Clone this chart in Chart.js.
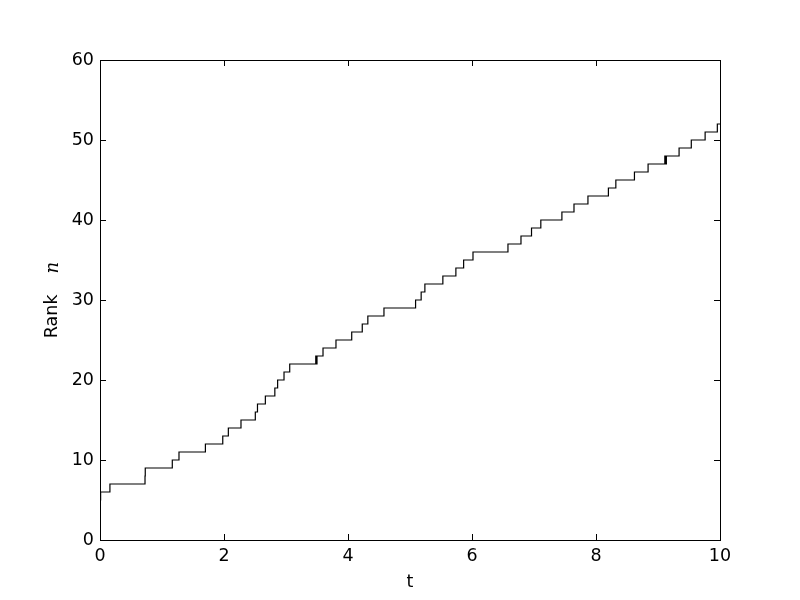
<!DOCTYPE html>
<html>
<head>
<meta charset="UTF-8">
<title>Rank n vs t</title>
<script src="https://cdn.jsdelivr.net/npm/chart.js"></script>
<style>
  html, body { margin: 0; padding: 0; background: #fff; }
  #wrap { width: 800px; height: 600px; }
</style>
</head>
<body>
<div id="wrap"><canvas id="rankChart" width="800" height="600"></canvas></div>
<script>
// times at which the rank changes, and the rank from that time on
var times = [0, 0.01, 0.16, 0.726, 0.73, 1.166, 1.274, 1.70, 1.98, 2.07, 2.274, 2.505, 2.54,
  2.667, 2.82, 2.865, 2.968, 3.06, 3.48, 3.49, 3.50, 3.597, 3.806, 4.06, 4.23, 4.32, 4.58,
  5.09, 5.18, 5.24, 5.53, 5.74, 5.865, 6.016, 6.58, 6.79, 6.96, 7.11, 7.45, 7.645, 7.87,
  8.20, 8.32, 8.62, 8.84, 9.11, 9.12, 9.135, 9.34, 9.537, 9.76, 9.957, 10];
var ranks = [5, 6, 7, 8, 9, 10, 11, 12, 13, 14, 15, 16, 17,
  18, 19, 20, 21, 22, 23, 22, 23, 24, 25, 26, 27, 28, 29,
  30, 31, 32, 33, 34, 35, 36, 37, 38, 39, 40, 41, 42, 43,
  44, 45, 46, 47, 48, 47, 48, 49, 50, 51, 52, 52];
var xTicks = [0, 2, 4, 6, 8, 10];
var yTicks = [0, 10, 20, 30, 40, 50, 60];

var points = times.map(function(t, i) { return { x: t, y: ranks[i] }; });

var tickFont = { family: 'DejaVu Sans', size: 17.5 };

// frame, inward ticks on all four sides, and axis titles (matplotlib classic look)
var framePlugin = {
  id: 'frame',
  afterDraw: function(chart) {
    var ctx = chart.ctx, a = chart.chartArea;
    var xs = chart.scales.x, ys = chart.scales.y;
    ctx.save();
    ctx.strokeStyle = '#000';
    ctx.lineWidth = 1;
    ctx.strokeRect(Math.round(a.left) + 0.5, Math.round(a.top) + 0.5,
      Math.round(a.right - a.left), Math.round(a.bottom - a.top));
    ctx.beginPath();
    xTicks.forEach(function(v) {
      var px = Math.round(xs.getPixelForValue(v)) + 0.5;
      ctx.moveTo(px, a.bottom); ctx.lineTo(px, a.bottom - 6);
      ctx.moveTo(px, a.top); ctx.lineTo(px, a.top + 6);
    });
    yTicks.forEach(function(v) {
      var py = Math.round(ys.getPixelForValue(v)) + 0.5;
      ctx.moveTo(a.left, py); ctx.lineTo(a.left + 6, py);
      ctx.moveTo(a.right, py); ctx.lineTo(a.right - 6, py);
    });
    ctx.stroke();

    ctx.fillStyle = '#000';
    ctx.textAlign = 'center';
    ctx.textBaseline = 'alphabetic';
    ctx.font = '17.5px "DejaVu Sans"';
    ctx.fillText('t', (a.left + a.right) / 2, 587);

    // y title: "Rank" + math-italic n, rotated
    ctx.translate(57, (a.top + a.bottom) / 2);
    ctx.rotate(-Math.PI / 2);
    ctx.textAlign = 'left';
    var w1 = ctx.measureText('Rank').width;
    var gap = 21;
    ctx.font = 'italic 18px "DejaVu Serif"';
    var w2 = ctx.measureText('n').width;
    var x0 = -(w1 + gap + w2) / 2;
    ctx.font = '17.5px "DejaVu Sans"';
    ctx.fillText('Rank', x0, 0);
    ctx.font = 'italic 18px "DejaVu Serif"';
    ctx.fillText('n', x0 + w1 + gap, 1);
    ctx.restore();
  }
};

var ctx = document.getElementById('rankChart').getContext('2d');
var rankChart = new Chart(ctx, {
  type: 'scatter',
  data: {
    datasets: [{
      data: points,
      showLine: true,
      stepped: true,
      borderColor: '#000',
      borderWidth: 1.2,
      pointRadius: 0,
      fill: false
    }]
  },
  options: {
    responsive: false,
    animation: false,
    layout: { padding: { left: 0, right: 80, top: 60, bottom: 0 } },
    plugins: { legend: { display: false }, tooltip: { enabled: false } },
    scales: {
      x: {
        type: 'linear', min: 0, max: 10,
        grid: { display: false, drawTicks: false },
        border: { display: false },
        afterBuildTicks: function(s) { s.ticks = xTicks.map(function(v) { return { value: v }; }); },
        afterFit: function(s) { s.height = 60; },
        ticks: { color: '#000', font: tickFont, padding: 6, maxRotation: 0 }
      },
      y: {
        type: 'linear', min: 0, max: 60,
        grid: { display: false, drawTicks: false },
        border: { display: false },
        afterBuildTicks: function(s) { s.ticks = yTicks.map(function(v) { return { value: v }; }); },
        afterFit: function(s) { s.width = 100; },
        ticks: { color: '#000', font: tickFont, padding: 6 }
      }
    }
  },
  plugins: [framePlugin]
});
</script>
</body>
</html>
